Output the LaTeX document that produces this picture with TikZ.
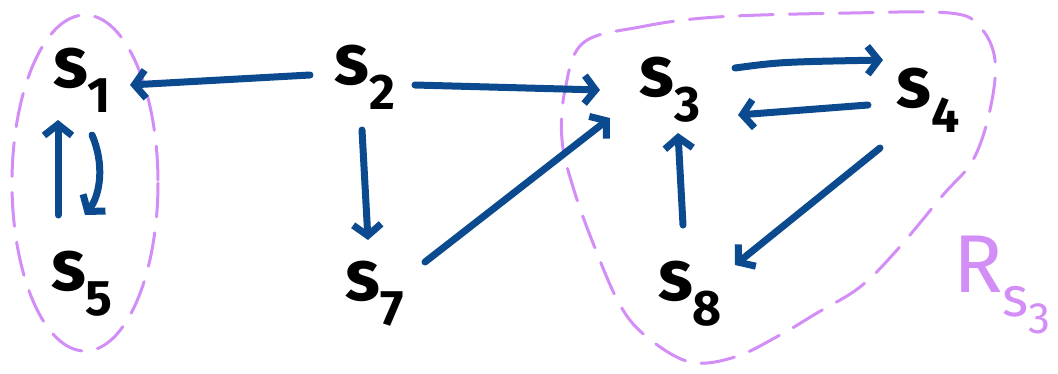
\documentclass[tikz,border=0pt]{standalone}
\usepackage{fontspec}
\setmainfont{Fira Sans}
\usetikzlibrary{arrows.meta,calc}
\definecolor{ink}{HTML}{0B4A8E}
\definecolor{lil}{HTML}{D38DF7}
\newcommand\stt[1]{s\raisebox{-0.35em}{\fontsize{50}{54}\selectfont #1}}
\begin{document}
\begin{tikzpicture}[x=1pt,y=-1pt,
  st/.style={font=\fontsize{72}{80}\selectfont\bfseries, inner sep=0pt},
  arr/.style={draw=ink, line width=7pt, line cap=round,
    -{Straight Barb[length=11pt,width=28pt,line width=7pt]}},
  reg/.style={draw=lil, line width=3pt, line cap=round, dash pattern=on 34pt off 16pt}]
\useasboundingbox (0,0) rectangle (1058,373);
% regions
\draw[reg] (85,183) ellipse [x radius=73, y radius=168];
\draw[reg] plot[smooth cycle, tension=0.6] coordinates {
  (583,43) (640,27) (717,17) (850,13) (950,13) (980,27) (995,60)
  (990,110) (973,160) (943,195) (897,250) (860,287) (817,313)
  (780,335) (735,357) (690,362) (647,337) (620,305) (593,243)
  (573,187) (562,140) (565,90)};
% nodes
\node[st] (s1) at (82,80) {\stt{1}};
\node[st] (s2) at (365,77) {\stt{2}};
\node[st] (s3) at (670,90) {\stt{3}};
\node[st] (s4) at (928,100) {\stt{4}};
\node[st] (s5) at (82,284) {\stt{5}};
\node[st] (s7) at (375,294) {\stt{7}};
\node[st] (s8) at (690,294) {\stt{8}};
\node[st, font=\fontsize{82}{90}\selectfont, text=lil] (r) at (1002,285) {R\raisebox{-0.3em}{\fontsize{56}{60}\selectfont s\raisebox{-0.3em}{\fontsize{44}{48}\selectfont 3}}};
% arrows
\draw[arr] ($(s2)+(-55,-2)$) -- ($(s1)+(48,5)$);
\draw[arr] ($(s2)+(50,8)$) -- ($(s3)+(-70,0)$);
\draw[arr] ($(s2)+(-3,53)$) -- ($(s7)+(-7,-54)$);
\draw[arr] ($(s7)+(50,-32)$) -- ($(s3)+(-60,28)$);
\draw[arr] ($(s1)+(10,55)$) .. controls ($(s1)+(23,85)$) and ($(s5)+(18,-89)$) .. ($(s5)+(3,-69)$);
\draw[arr] ($(s5)+(-24,-69)$) -- ($(s1)+(-24,40)$);
\draw[arr] ($(s3)+(65,-22)$) .. controls ($(s3)+(110,-28)$) .. ($(s4)+(-45,-40)$);
\draw[arr] ($(s4)+(-60,5)$) -- ($(s3)+(68,25)$);
\draw[arr] ($(s4)+(-48,48)$) -- ($(s8)+(45,-29)$);
\draw[arr] ($(s8)+(-7,-69)$) -- ($(s3)+(8,43)$);
\end{tikzpicture}
\end{document}
